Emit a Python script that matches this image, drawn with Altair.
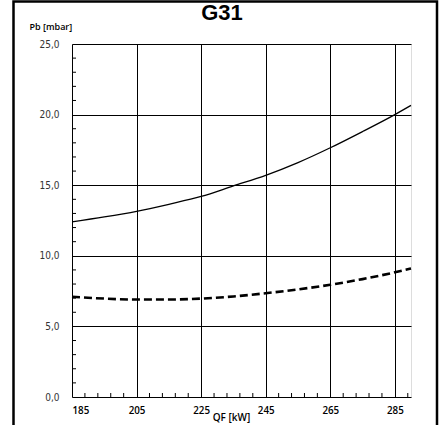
import altair as alt
import pandas as pd

title_text = ["G31"]
qf = [185, 195, 205, 215, 225, 235, 245, 255, 265, 275, 285, 290]
pb_max = [12.4, 12.75, 13.15, 13.65, 14.2, 14.95, 15.7, 16.6, 17.65, 18.8, 20.0, 20.65]
pb_min = [7.1, 6.97, 6.9, 6.9, 6.97, 7.12, 7.35, 7.62, 7.95, 8.35, 8.83, 9.1]

x_major = [185, 205, 225, 245, 265, 285]
y_major = [0, 5, 10, 15, 20, 25]
x_minor = [v for v in range(189, 290, 4) if (v - 185) % 20 != 0]
y_minor = [v for v in range(1, 25) if v % 5 != 0]

W, H = 339, 353

df = pd.DataFrame({"qf": qf * 2, "pb": pb_max + pb_min,
                   "s": ["max"] * len(qf) + ["min"] * len(qf)})

xs = alt.Scale(domain=[185, 290], nice=False, zero=False)
ys = alt.Scale(domain=[0, 25], nice=False)

lab_font = "Open Sans"
y_font = "Liberation Sans Narrow, DejaVu Sans Condensed, sans-serif"

x_axis = alt.Axis(values=x_major, grid=True, gridColor="black", gridWidth=1, gridOpacity=1,
                  domain=False, ticks=False, labelFont=lab_font, labelFontSize=9.8,
                  labelFontWeight=600, labelColor="black", labelBaseline="alphabetic",
                  labelPadding=16, title="QF [kW]", titleFont=lab_font, titleFontSize=10,
                  titleFontWeight=600, titleColor="black", titleX=159, titleY=23,
                  titleAlign="center", titleBaseline="alphabetic")
y_axis = alt.Axis(values=y_major, grid=True, gridColor="black", gridWidth=1, gridOpacity=1,
                  domain=False, ticks=False, labelFont=y_font, labelFontSize=10,
                  labelColor="#333", labelPadding=13, labelBaseline="middle",
                  labelExpr="replace(format(datum.value, '.1f'), '.', ',')",
                  title="Pb [mbar]", titleFont=lab_font, titleFontSize=9,
                  titleFontWeight=600, titleColor="black", titleAngle=0, titleX=-43,
                  titleY=-14.5, titleAlign="left", titleBaseline="alphabetic")

base = alt.Chart(df)
solid = base.transform_filter(alt.datum.s == "max").mark_line(
    color="black", strokeWidth=1.3, interpolate="monotone").encode(
    x=alt.X("qf:Q", scale=xs, axis=x_axis), y=alt.Y("pb:Q", scale=ys, axis=y_axis))
dashed = base.transform_filter(alt.datum.s == "min").mark_line(
    color="black", strokeWidth=2.6, strokeDash=[8, 4], interpolate="monotone").encode(
    x=alt.X("qf:Q", scale=xs), y=alt.Y("pb:Q", scale=ys))

ymin = alt.Chart(pd.DataFrame({"v": y_minor})).mark_rule(color="black", strokeWidth=1).encode(
    y=alt.Y("v:Q", scale=ys), x=alt.value(0), x2=alt.value(4))
xmin = alt.Chart(pd.DataFrame({"v": x_minor})).mark_rule(color="black", strokeWidth=1).encode(
    x=alt.X("v:Q", scale=xs), y=alt.value(H), y2=alt.value(H - 4))

frame = alt.Chart(pd.DataFrame({"a": [0]})).mark_rect(
    fill=None, stroke="black", strokeWidth=2.5, clip=False).encode(
    x=alt.value(-58.5), x2=alt.value(365), y=alt.value(-42.5), y2=alt.value(395))

title = alt.Chart(pd.DataFrame({"t": title_text})).mark_text(
    font="Liberation Sans", fontSize=22, fontWeight="bold", color="black",
    align="center", baseline="alphabetic", clip=False).encode(
    text="t:N", x=alt.value(150), y=alt.value(-24.5))

chart = alt.layer(ymin, xmin, solid, dashed, frame, title).properties(
    width=W, height=H,
    autosize=alt.AutoSizeParams(type="none"),
    padding={"left": 72, "top": 44, "right": 33, "bottom": 28},
).configure_view(stroke="black", strokeWidth=1.5).configure(background="white")

chart.save("out.html", embed_options={"renderer": "svg", "actions": False})
